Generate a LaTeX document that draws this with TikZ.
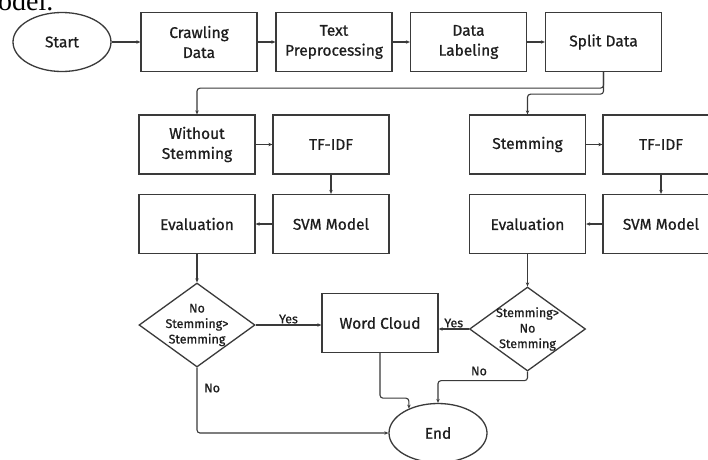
\documentclass[tikz,border=0pt]{standalone}
\usepackage{fontspec}
\setmainfont{Fira Sans}[FakeBold=0.7]
\newfontfamily\capserif{Liberation Serif}
\usetikzlibrary{shapes.geometric,arrows.meta}
\definecolor{edgec}{HTML}{3A3A3A}
\definecolor{txtc}{HTML}{1E1E1E}
\newcommand{\boxfont}{\fontsize{15.5}{20}\selectfont}
\newcommand{\diafont}{\fontsize{12.5}{15.5}\selectfont}
\newcommand{\lblfont}{\fontsize{12.5}{14}\selectfont}
\begin{document}
\begin{tikzpicture}[x=1pt,y=-1pt,
  box/.style={draw=edgec, line width=1.3pt, minimum width=116pt, minimum height=59pt,
    inner sep=0pt, align=center, font=\boxfont, text=txtc},
  oval/.style={ellipse, draw=edgec, line width=1.3pt, minimum width=98pt, minimum height=59pt,
    inner sep=0pt, font=\boxfont, text=txtc},
  dia/.style={diamond, draw=edgec, line width=1.3pt, minimum width=116pt, minimum height=84pt,
    inner sep=0pt},
  diatext/.style={align=center, font=\diafont, text=txtc, inner sep=0pt},
  lbl/.style={font=\lblfont, text=txtc, inner sep=1pt},
  arr/.style={draw=edgec, line width=1.1pt, rounded corners=3pt, -{Stealth[length=4pt,width=3.5pt]}}
]
\path[use as bounding box] (0,0) rectangle (708,459);
\clip (0,0) rectangle (708,459);
\fill[white] (0,0) rectangle (708,459);

\node[font=\capserif\fontsize{28}{30}\selectfont, anchor=base west, inner sep=0pt] (cap) at (-2,10) {odel.};

\node[oval] (start) at (62,42) {Start};
\node[box] (crawl) at (199,42) {Crawling\\Data};
\node[box] (prep) at (334,42) {Text\\Preprocessing};
\node[box] (label) at (468.5,42) {Data\\Labeling};
\node[box] (split) at (603.5,42) {Split Data};

\node[box] (wos) at (197,144.5) {Without\\Stemming};
\node[box] (tfa) at (331,144.5) {TF-IDF};
\node[box] (eva) at (197,224) {Evaluation};
\node[box] (svma) at (331,224) {SVM Model};

\node[box] (stem) at (527.5,144.5) {Stemming};
\node[box] (tfb) at (661,144.5) {TF-IDF};
\node[box] (evb) at (527.5,224) {Evaluation};
\node[box] (svmb) at (661,224) {SVM Model};

\node[dia] (da) at (197,325) {};
\node[diatext] (dat) at (da) {No\\Stemming>\\Stemming};
\node[dia] (db) at (527.5,329) {};
\node[diatext] (dbt) at (db) {Stemming>\\No\\Stemming};

\node[box] (wc) at (380,323) {Word Cloud};
\node[oval] (end) at (438,433) {End};

\draw[arr] (start) -- (crawl);
\draw[arr] (crawl) -- (prep);
\draw[arr] (prep) -- (label);
\draw[arr] (label) -- (split);

\draw[arr] (split.south) -- ++(0,16) -| (wos.north);
\draw[arr] (split.south) -- ++(0,22) -| (stem.north);

\draw[arr] (wos) -- (tfa);
\draw[arr] (tfa) -- (svma);
\draw[arr] (svma) -- (eva);
\draw[arr] (eva) -- (da);

\draw[arr] (stem) -- (tfb);
\draw[arr] (tfb) -- (svmb);
\draw[arr] (svmb) -- (evb);
\draw[arr] (evb) -- (db);

\draw[arr] (da.east) -- (da.east -| wc.west) node[lbl, midway, above] {Yes};
\draw[arr] (db.west) -- (db.west -| wc.east) node[lbl, midway, above] {Yes};

\draw[arr] (da.south) |- (end.west);
\node[lbl, anchor=west] (noa) at (203,388) {No};
\draw[arr] (db.south) -- ++(0,9) -| (end.north);
\node[lbl] (nob) at (479,371) {No};
\draw[arr] (wc.south) -- ++(0,45) -| (end.140);
\end{tikzpicture}
\end{document}
